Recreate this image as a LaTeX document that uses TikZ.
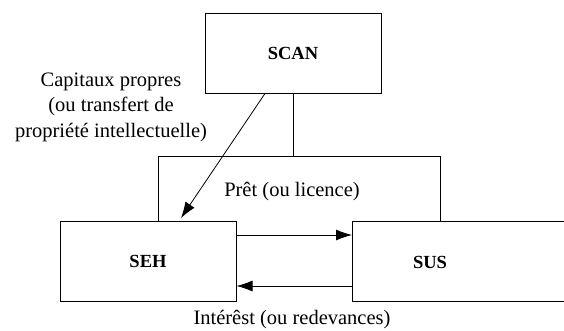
\documentclass[tikz,border=0pt]{standalone}
\usepackage{fontspec}
\setmainfont{Liberation Serif}
\usetikzlibrary{arrows.meta}
\begin{document}
\begin{tikzpicture}[x=1pt,y=-1pt,
  box/.style={draw, line width=1pt, minimum width=176pt, minimum height=80pt, inner sep=0pt, font=\fontsize{18.5}{20}\selectfont\bfseries},
  lbl/.style={font=\fontsize{20.5}{25.5}\selectfont, align=center, inner sep=0pt},
  ln/.style={line width=0.8pt},
  arr/.style={line width=0.8pt, -{Latex[length=16pt,width=11pt]}}]
\useasboundingbox (0,0) rectangle (564,330);
\begin{scope}
\clip (0,0) rectangle (564,330);
\node[box] (scan) at (293,53.5) {SCAN};
\node[box] (seh) at (148,261) {SEH};
\draw[line width=1pt] (570,221) -- (352,221) -- (352,301) -- (570,301);
\node[font=\fontsize{18.5}{20}\selectfont\bfseries, inner sep=0pt] (sus) at (430,262) {SUS};
\coordinate (susW) at (352,261);
\end{scope}
\coordinate (jL) at (158,156);
\coordinate (jR) at (440,156);
\draw[ln] (scan.south) -- (293,156);
\draw[ln] (jL |- seh.north) -- (jL) -- (jR) -- (440,221);
\draw[arr] (265,93.5) -- (181,218);
\draw[arr] (seh.east |- 0,235) -- (susW |- 0,235);
\draw[arr] (susW |- 0,286) -- (seh.east |- 0,286);
\node[lbl] (cap) at (111,107) {Capitaux propres\\(ou transfert de\\propriété intellectuelle)};
\node[lbl] (pret) at (292,192) {Prêt (ou licence)};
\node[lbl] (int) at (292,320) {Intérêst (ou redevances)};
\end{tikzpicture}
\end{document}
